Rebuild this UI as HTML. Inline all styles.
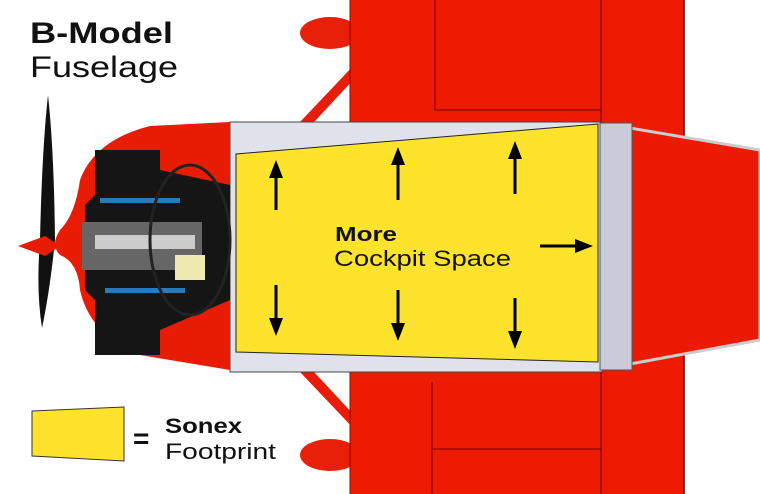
<!DOCTYPE html>
<html><head><style>
body{margin:0;width:760px;height:494px;overflow:hidden;background:#fff}
svg{display:block}
text{font-family:"Liberation Sans",sans-serif;fill:#111}
</style></head><body>
<svg width="760" height="494" viewBox="0 0 760 494">
<!-- wheel pants -->
<ellipse cx="330" cy="33" rx="30" ry="16" fill="#e8200a"/>
<ellipse cx="330" cy="455" rx="30" ry="16" fill="#e8200a"/>
<!-- struts -->
<polygon points="300,122 314,122 355,78 355,64" fill="#e81c08"/>
<polygon points="300,372 314,372 355,416 355,430" fill="#e81c08"/>
<!-- wing -->
<rect x="350" y="0" width="334" height="494" fill="#ef1a02"/>
<line x1="350" y1="0" x2="350" y2="494" stroke="#8a0a00" stroke-width="1"/>
<line x1="684" y1="0" x2="684" y2="494" stroke="#400" stroke-width="1.5"/>
<line x1="601" y1="0" x2="601" y2="494" stroke="#600" stroke-width="1"/>
<line x1="435" y1="0" x2="435" y2="110" stroke="#700" stroke-width="1"/>
<line x1="435" y1="110" x2="601" y2="110" stroke="#700" stroke-width="1"/>
<line x1="432" y1="382" x2="432" y2="494" stroke="#700" stroke-width="1"/>
<line x1="432" y1="449" x2="601" y2="449" stroke="#700" stroke-width="1"/>
<!-- tail fuselage -->
<polygon points="630,128 760,150 760,340 630,364" fill="#ec1a02" stroke="#ccc" stroke-width="3"/>
<!-- cockpit frame -->
<rect x="230" y="122" width="372" height="250" fill="#dfe2ea" stroke="#444" stroke-width="1"/>
<rect x="600" y="123" width="32" height="247" fill="#c9ccd8" stroke="#555" stroke-width="1"/>
<!-- cowling -->
<path d="M230,122 L150,126 Q95,140 80,180 Q75,215 60,230 Q50,245 60,255 Q78,262 80,290 Q90,335 140,355 L230,370 Z" fill="#e81c05"/>
<!-- engine -->
<path d="M95,150 L160,150 L160,170 L230,185 L230,300 L160,330 L160,355 L95,355 L95,300 L85,290 L85,205 L95,195 Z" fill="#151515"/>
<rect x="82" y="222" width="120" height="48" fill="#666"/>
<rect x="95" y="235" width="100" height="14" fill="#ccc"/>
<rect x="100" y="198" width="80" height="5" fill="#2a7ab5"/>
<rect x="105" y="288" width="80" height="5" fill="#2a7ab5"/>
<rect x="175" y="255" width="30" height="25" fill="#eeeab0"/>
<ellipse cx="190" cy="240" rx="40" ry="75" fill="none" stroke="#222" stroke-width="3"/>
<!-- propeller -->
<path d="M48,95 Q54,150 55,240 Q50,290 42,328 Q36,290 40,240 Q42,150 48,95Z" fill="#111"/>
<path d="M18,246 L45,236 L60,246 L45,256 Z" fill="#e81c05"/>
<!-- yellow footprint -->
<polygon points="236,154 598,124 598,362 236,352" fill="#fee32d" stroke="#222" stroke-width="1"/>
<!-- arrows -->
<g stroke="#000" stroke-width="3" fill="#000">
<line x1="276" y1="210" x2="276" y2="175"/><polygon points="269,178 283,178 276,160" stroke="none"/>
<line x1="398" y1="200" x2="398" y2="163"/><polygon points="391,165 405,165 398,147" stroke="none"/>
<line x1="515" y1="194" x2="515" y2="157"/><polygon points="508,159 522,159 515,141" stroke="none"/>
<line x1="276" y1="285" x2="276" y2="320"/><polygon points="269,318 283,318 276,336" stroke="none"/>
<line x1="398" y1="290" x2="398" y2="325"/><polygon points="391,323 405,323 398,341" stroke="none"/>
<line x1="515" y1="298" x2="515" y2="333"/><polygon points="508,331 522,331 515,349" stroke="none"/>
<line x1="540" y1="246" x2="578" y2="246"/><polygon points="575,239 575,253 593,246" stroke="none"/>
</g>
<text x="335" y="241" font-size="20" font-weight="bold" textLength="62" lengthAdjust="spacingAndGlyphs">More</text>
<text x="334" y="266" font-size="22" textLength="177" lengthAdjust="spacingAndGlyphs">Cockpit Space</text>
<!-- title -->
<text x="30" y="43" font-size="30" font-weight="bold" textLength="143" lengthAdjust="spacingAndGlyphs">B-Model</text>
<text x="30" y="77" font-size="30" textLength="148" lengthAdjust="spacingAndGlyphs">Fuselage</text>
<!-- legend -->
<polygon points="32,411 124,407 124,461 32,456" fill="#fee32d" stroke="#333" stroke-width="1"/>
<text x="133" y="448" font-size="28" font-weight="bold">=</text>
<text x="165" y="433" font-size="21" font-weight="bold" textLength="77" lengthAdjust="spacingAndGlyphs">Sonex</text>
<text x="165" y="459" font-size="22" textLength="111" lengthAdjust="spacingAndGlyphs">Footprint</text>
</svg>
</body></html>
